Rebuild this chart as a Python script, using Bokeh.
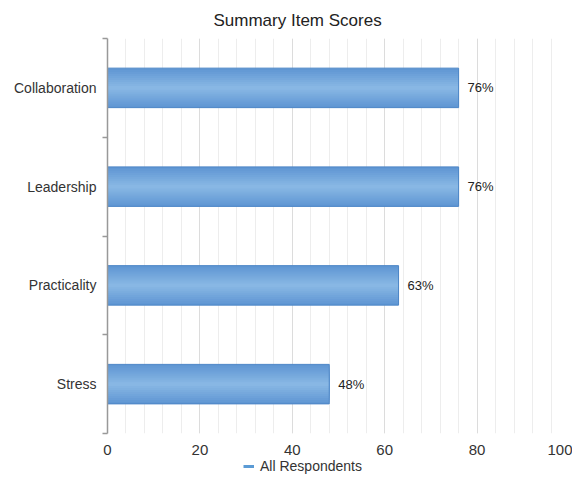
from bokeh.plotting import figure
from bokeh.layouts import column
from bokeh.models import Range1d, FixedTicker, Legend, LegendItem
from bokeh.core.properties import value
from bokeh.embed import file_html
from bokeh.resources import INLINE

categories = ["Collaboration", "Leadership", "Practicality", "Stress"]
scores = [76, 76, 63, 48]
x_ticks = [0, 20, 40, 60, 80, 100]
x_minor = list(range(0, 101, 4))
series_name = "All Respondents"
title_text = "Summary Item Scores"

n = len(categories)
ys = [n - i - 0.5 for i in range(n)]
labels = [f"{v}%" for v in scores]
FONT = "Liberation Sans"

p = figure(width=572, height=457, output_backend="svg", toolbar_location=None,
           x_range=Range1d(0, 100), y_range=Range1d(0, n),
           min_border_left=107, min_border_right=3, min_border_top=38, min_border_bottom=24)
p.outline_line_color = None

p.title.text = title_text
p.title.align = "left"
p.title.offset = 106
p.title.standoff = 17
p.title.text_font = FONT
p.title.text_font_size = "17px"
p.title.text_font_style = "normal"
p.title.text_color = "#222222"

# x axis
p.xaxis.ticker = FixedTicker(ticks=x_ticks, minor_ticks=x_minor)
p.xaxis.axis_line_color = None
p.xaxis.major_tick_line_color = None
p.xaxis.minor_tick_line_color = None
p.xaxis.major_tick_out = 0
p.xaxis.major_label_standoff = 7
p.xaxis.major_label_text_font = FONT
p.xaxis.major_label_text_font_size = "15px"
p.xaxis.major_label_text_color = "#333333"

# y axis
p.yaxis.ticker = FixedTicker(ticks=ys, minor_ticks=list(range(0, n + 1)))
p.yaxis.major_label_overrides = {y: c for y, c in zip(ys, categories)}
p.yaxis.axis_line_color = "#999999"
p.yaxis.axis_line_width = 1.5
p.yaxis.major_tick_line_color = None
p.yaxis.minor_tick_line_color = "#999999"
p.yaxis.minor_tick_line_width = 1.5
p.yaxis.minor_tick_out = 5
p.yaxis.minor_tick_in = 0
p.yaxis.major_tick_out = 0
p.yaxis.major_label_standoff = 6
p.yaxis.major_label_text_font = FONT
p.yaxis.major_label_text_font_size = "14px"
p.yaxis.major_label_text_color = "#333333"

# grid
p.ygrid.grid_line_color = None
p.xgrid.grid_line_color = "#dcdcdc"
p.xgrid.minor_grid_line_color = "#ededed"

# bars with simulated gradient
N = 10
edge = (0x5f, 0x96, 0xd3)
center = (0x88, 0xb7, 0xe4)
bar_h = 0.4
for k in range(N):
    t = k / (N - 1)
    c = tuple(int(round(edge[j] + (center[j] - edge[j]) * t)) for j in range(3))
    col = "#%02x%02x%02x" % c
    p.hbar(y=ys, right=scores, left=0, height=bar_h * (1 - k / N), fill_color=col, line_color=None)
p.hbar(y=ys, right=scores, left=0, height=bar_h, fill_color=None, line_color="#4d86c6", line_width=1)

p.text(x=scores, y=ys, text=labels, x_offset=9, text_baseline="middle", text_align="left",
       text_font=value(FONT), text_font_size="13px", text_color="#222222")

# legend strip (frame is aligned with the main plot's frame by the column layout)
p2 = figure(width=572, height=19, output_backend="svg", toolbar_location=None,
            x_range=Range1d(0, 1), y_range=Range1d(0, 1), x_axis_type=None, y_axis_type=None,
            min_border=0)
p2.outline_line_color = None
p2.grid.visible = False
nan = float("nan")
leg_r = p2.line(x=[nan], y=[nan], line_color="#5b9bd5", line_width=3)
legend = Legend(items=[LegendItem(label=series_name, renderers=[leg_r])],
                location=(136, 2), orientation="horizontal",
                glyph_width=11, glyph_height=14, label_standoff=6, padding=0, margin=0,
                label_text_font=FONT, label_text_font_size="14px", label_text_color="#333333",
                border_line_color=None, background_fill_alpha=0)
p2.add_layout(legend, "center")

layout = column(p, p2, spacing=0)
open("out.html", "w").write(file_html(layout, INLINE))
